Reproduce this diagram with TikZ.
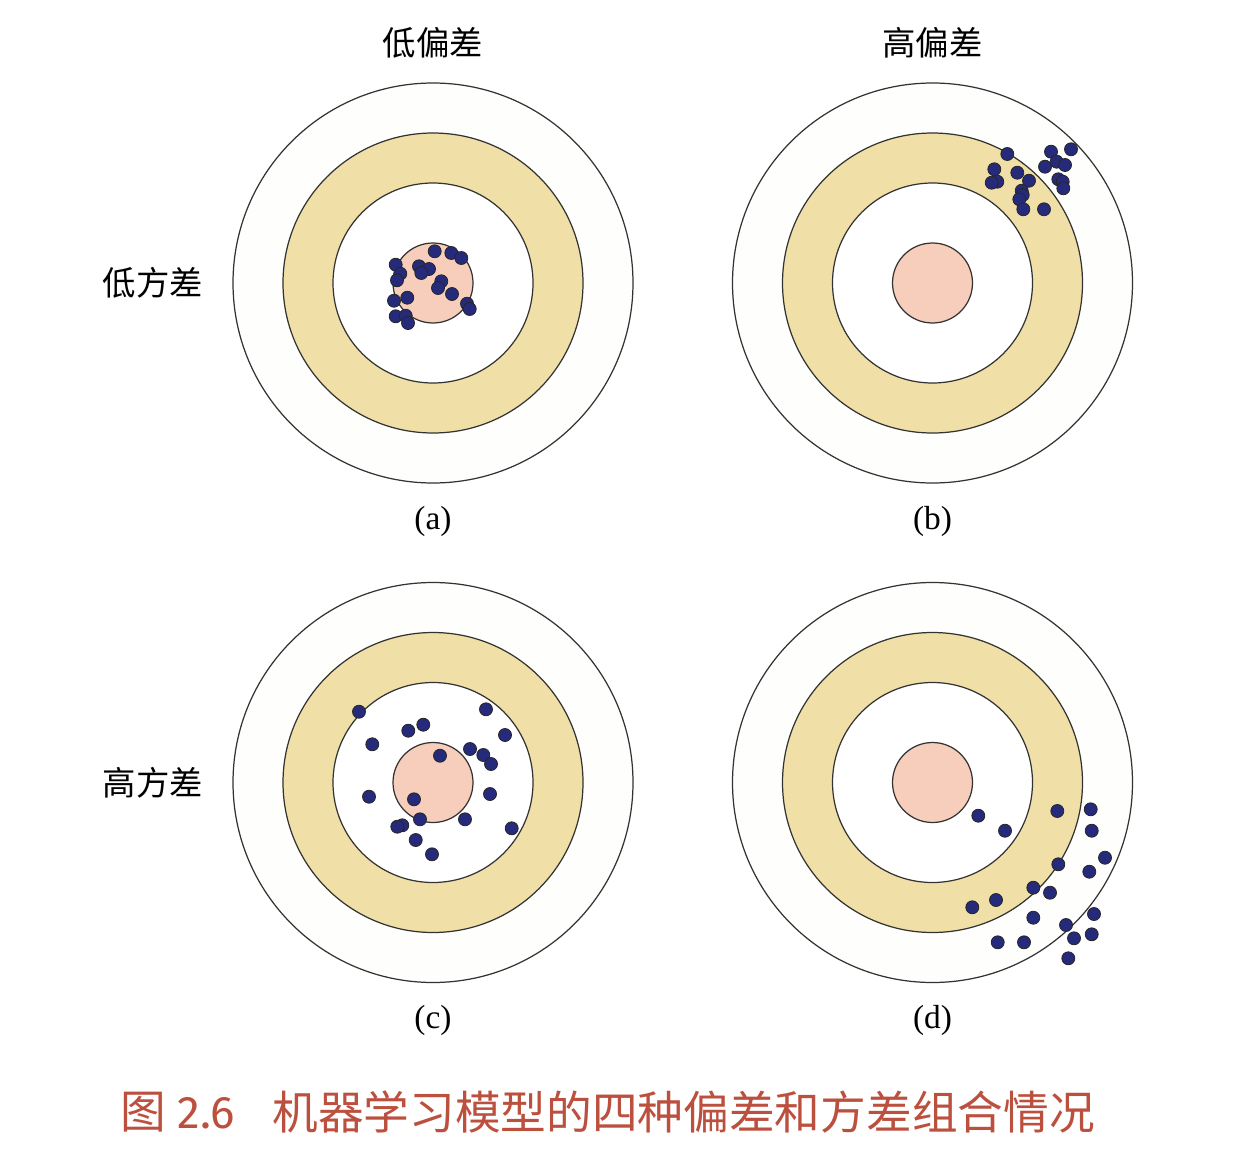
\documentclass[tikz,border=0pt]{standalone}
\usepackage{fontspec}
\setmainfont{Liberation Serif}
\newfontfamily\cjk{Noto Sans CJK SC}
\newfontfamily\capnum{Fira Sans}
\usetikzlibrary{positioning}
\definecolor{ringyellow}{RGB}{240,224,168}
\definecolor{bullpink}{RGB}{247,206,187}
\definecolor{paleband}{RGB}{254,254,252}
\definecolor{shotblue}{RGB}{38,42,122}
\definecolor{captred}{RGB}{188,80,62}
\tikzset{
  ring/.style   ={draw=black!80,line width=0.7pt},
  shot/.style   ={draw=black!85,fill=shotblue,line width=0.45pt},
  head/.style   ={font=\cjk\fontsize{19}{22}\selectfont,inner sep=1pt},
  sublbl/.style ={font=\fontsize{19}{22}\selectfont,inner sep=1pt},
  capt/.style   ={font=\cjk\fontsize{26}{30}\selectfont,text=captred,inner sep=0pt},
}

\begin{document}
\begin{tikzpicture}
  \useasboundingbox (0,0) rectangle (24.8,-23.44);

  \coordinate (ta) at (8.66,-5.66);
  \coordinate (tb) at (18.65,-5.66);
  \coordinate (tc) at (8.66,-15.65);
  \coordinate (td) at (18.65,-15.65);

  % the four targets
  \foreach \t in {ta,tb,tc,td}{
    \draw[ring,fill=paleband]   (\t) circle (4);
    \draw[ring,fill=ringyellow] (\t) circle (3);
    \draw[ring,fill=white]      (\t) circle (2);
    \draw[ring,fill=bullpink]   (\t) circle (0.8);
  }

  % low bias, low variance
  \begin{scope}[shift={(ta)}]
    \foreach \p in {(0.034,0.634),(0.366,0.60),(0.566,0.50),(-0.746,0.366),
        (-0.654,0.186),(-0.72,0.054),(-0.28,0.334),(-0.08,0.28),(-0.234,0.20),
        (0.166,0.034),(0.10,-0.10),(0.38,-0.22),(-0.78,-0.354),(-0.514,-0.294),
        (0.68,-0.414),(0.734,-0.52),(-0.746,-0.666),(-0.546,-0.654),(-0.50,-0.80)}
      \draw[shot] \p circle (0.13);
  \end{scope}

  % high bias, low variance
  \begin{scope}[shift={(tb)}]
    \foreach \p in {(1.496,2.58),(2.37,2.626),(2.77,2.674),(2.25,2.326),
        (2.484,2.426),(2.65,2.36),(1.236,2.274),(1.296,2.026),(1.184,2.006),
        (1.696,2.206),(1.93,2.046),(2.516,2.074),(2.604,2.026),(2.616,1.894),
        (1.784,1.846),(1.804,1.76),(1.736,1.674),(1.816,1.474),(2.23,1.474)}
      \draw[shot] \p circle (0.13);
  \end{scope}

  % low bias, high variance
  \begin{scope}[shift={(tc)}]
    \foreach \p in {(-1.48,1.416),(1.06,1.464),(-0.494,1.036),(-0.194,1.156),
        (-1.214,0.764),(1.44,0.95),(0.14,0.536),(0.74,0.67),(1.006,0.55),
        (1.16,0.37),(-1.28,-0.284),(1.14,-0.23),(-0.38,-0.336),(-0.26,-0.736),
        (0.64,-0.736),(-0.614,-0.856),(-0.714,-0.884),(1.574,-0.916),
        (-0.346,-1.15),(-0.02,-1.436)}
      \draw[shot] \p circle (0.13);
  \end{scope}

  % high bias, high variance
  \begin{scope}[shift={(td)}]
    \foreach \p in {(0.916,-0.664),(1.45,-0.964),(2.496,-0.57),(3.164,-0.536),
        (3.184,-0.964),(3.45,-1.504),(2.516,-1.636),(3.136,-1.784),(2.016,-2.104),
        (2.35,-2.204),(1.27,-2.35),(0.796,-2.496),(2.016,-2.704),(3.23,-2.63),
        (2.67,-2.85),(2.83,-3.116),(3.184,-3.036),(1.304,-3.196),(1.83,-3.196),
        (2.716,-3.516)}
      \draw[shot] \p circle (0.13);
  \end{scope}

  % headings
  \node[head] (lowbias)  at (8.66,-0.86)  {低偏差};
  \node[head] (highbias) at (18.65,-0.86) {高偏差};
  \node[head] (lowvar)   at (3.06,-5.66)  {低方差};
  \node[head] (highvar)  at (3.06,-15.65) {高方差};

  \node[sublbl] (suba) at (8.66,-10.42)  {(a)};
  \node[sublbl] (subb) at (18.65,-10.42) {(b)};
  \node[sublbl] (subc) at (8.66,-20.4)   {(c)};
  \node[sublbl] (subd) at (18.65,-20.4)  {(d)};

  \node[capt,anchor=west] (fignum) at (2.4,-22.24)
    {图\hspace{0.25em}{\capnum 2.6}};
  \node[capt,anchor=west] (figtitle) at (5.44,-22.24)
    {机器学习模型的四种偏差和方差组合情况};
\end{tikzpicture}
\end{document}
